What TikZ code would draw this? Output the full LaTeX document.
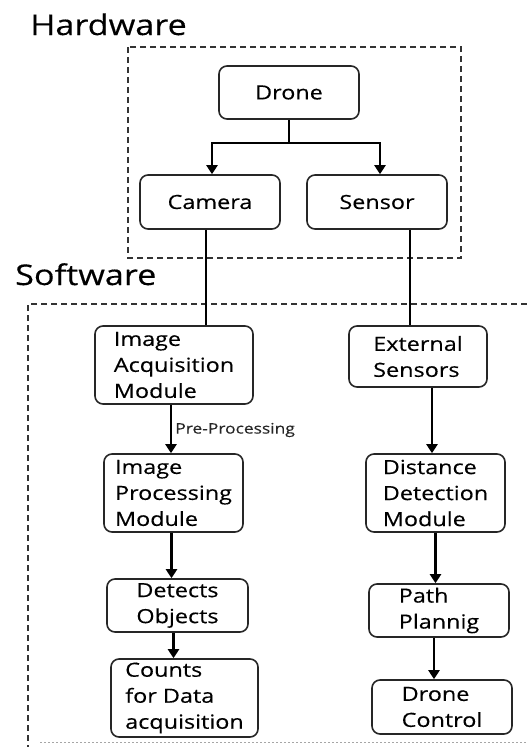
\documentclass[tikz,border=0pt]{standalone}
\usepackage{fontspec}
\setmainfont{Open Sans}[FakeStretch=1.2,FakeBold=0.3]
\usetikzlibrary{arrows.meta,calc}
\begin{document}
\begin{tikzpicture}[x=1pt,y=-1pt,
  box/.style={draw=black!85, line width=1.6pt, rounded corners=8pt, align=left,
    font=\fontsize{19.5}{26}\selectfont, inner sep=0pt, text=black},
  conn/.style={line width=2.6pt, black},
  arr/.style={conn, -{Triangle[width=11pt,length=9pt]}},
  grp/.style={line width=1.8pt, black!80, dash pattern=on 6pt off 4pt},
  title/.style={anchor=base west, font=\fontsize{28.5}{34}\selectfont, text=black, inner sep=0pt}]
\useasboundingbox (0,0) rectangle (527,747);

% group frames
\draw[grp] (128,47) rectangle (461,258);
\draw[grp] (527,304) -- (28,304) -- (28,747);
\draw[black!35, line width=0.8pt, dash pattern=on 2pt off 2pt] (40,742) -- (527,742);

% titles
\node[title] (hw) at (30,35) {Hardware};
\node[title] (sw) at (15,285) {Software};

% hardware nodes
\node[box, minimum width=140pt, minimum height=53pt] (drone) at (289,92.5) {Drone};
\node[box, minimum width=140pt, minimum height=54pt] (camera) at (210,202) {Camera};
\node[box, minimum width=140pt, minimum height=54pt] (sensor) at (377,202) {Sensor};

% software nodes
\node[box, minimum width=158pt, minimum height=78pt] (imgacq) at (174,365) {Image\\Acquisition\\Module};
\node[box, minimum width=138pt, minimum height=61pt] (ext) at (418,356.5) {External\\Sensors};
\node[box, minimum width=139pt, minimum height=78pt] (imgproc) at (173.5,493) {Image\\Processing\\Module};
\node[box, minimum width=139pt, minimum height=78pt] (dist) at (435.5,493) {Distance\\Detection\\Module};
\node[box, minimum width=141pt, minimum height=53pt] (detects) at (177.5,605.5) {Detects\\Objects};
\node[box, minimum width=147pt, minimum height=78pt] (counts) at (184.5,698) {Counts\\for Data\\acquisition};
\node[box, minimum width=140pt, minimum height=53pt] (path) at (439,610.5) {Path\\Plannig};
\node[box, minimum width=140pt, minimum height=54pt] (dronectl) at (442,707) {Drone\\Control};

% connectors
\draw[conn] (drone.south) -- ++(0,23) coordinate (split);
\draw[arr] (split) -| ([xshift=2pt]camera.north);
\draw[arr] (split) -| ([xshift=3pt]sensor.north);
\draw[conn] ([xshift=-4pt]camera.south) -- ([xshift=-4pt]camera.south |- imgacq.north);
\draw[conn] ([xshift=33pt]sensor.south) -- ([xshift=33pt]sensor.south |- ext.north);
\draw[arr] ([xshift=-3pt]imgacq.south) -- node[right, xshift=3pt, yshift=-1pt, inner sep=0pt, font=\fontsize{14.5}{17}\selectfont, text=black!85] (pre) {Pre-Processing} ([xshift=-3pt]imgacq.south |- imgproc.north);
\draw[arr] ([xshift=14pt]ext.south) -- ([xshift=14pt]ext.south |- dist.north);
\draw[arr] ([xshift=-2pt]imgproc.south) -- ([xshift=-2pt]imgproc.south |- detects.north);
\draw[arr] ([xshift=-4pt]detects.south) -- ([xshift=-4pt]detects.south |- counts.north);
\draw[arr] (dist.south) -- (dist.south |- path.north);
\draw[arr] ([xshift=-5pt]path.south) -- ([xshift=-5pt]path.south |- dronectl.north);
\end{tikzpicture}
\end{document}
